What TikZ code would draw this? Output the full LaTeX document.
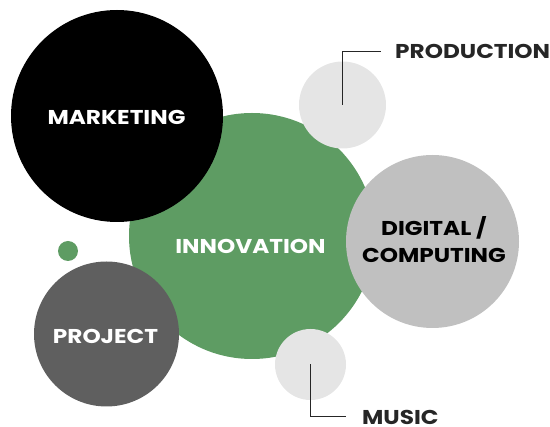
\documentclass[tikz,border=0pt]{standalone}
\usepackage{fontspec}
\setmainfont{Poppins}[FakeStretch=1.16]
\usetikzlibrary{positioning}
\definecolor{innogreen}{HTML}{5E9C63}
\definecolor{projgrey}{HTML}{5F5F5F}
\definecolor{diggrey}{HTML}{C0C0C0}
\definecolor{softgrey}{HTML}{E5E5E5}
\definecolor{inkgrey}{HTML}{262626}
\begin{document}
\begin{tikzpicture}[x=1pt,y=-1pt,
	bubble/.style={circle,inner sep=0pt,draw=none},
	bubbletext/.style={font=\fontsize{20}{27}\selectfont\bfseries,anchor=base,align=center,inner sep=0pt,text depth=0pt},
	leader/.style={draw=inkgrey,line width=1.2pt}]
	\useasboundingbox (0,0) rectangle (550,427);
	% circles
	\node[bubble,fill=innogreen,minimum size=246pt] (inno) at (252,236) {};
	\node[bubble,fill=black,minimum size=212pt] (mkt) at (117,116) {};
	\node[bubble,fill=softgrey,minimum size=87pt] (prod) at (342.5,105) {};
	\node[bubble,fill=diggrey,minimum size=173pt] (dig) at (432.5,241.5) {};
	\node[bubble,fill=softgrey,minimum size=71pt] (mus) at (310.5,364.5) {};
	\node[bubble,fill=projgrey,minimum size=145pt] (proj) at (106.5,334) {};
	\node[bubble,fill=innogreen,minimum size=20pt] (dot) at (68,251) {};
	% texts
	\node[bubbletext,text=white] (mkttext) at (116.5,124.5) {MARKETING};
	\node[bubbletext,text=white] (innotext) at (250.5,254) {INNOVATION};
	\node[bubbletext,text=white] (projtext) at (105.5,344) {PROJECT};
	\node[bubbletext,text=black] (digtext) at (434,263) {DIGITAL /\\COMPUTING};
	\node[bubbletext,text=inkgrey,anchor=base west] (prodtext) at (395,59) {PRODUCTION};
	\node[bubbletext,text=inkgrey,anchor=base west] (mustext) at (362,425) {MUSIC};
	% leaders
	\coordinate (prodend) at (381,51.3);
	\coordinate (musend) at (346,416.5);
	\draw[leader] (prod.center) |- (prodend);
	\draw[leader] (mus.center) |- (musend);
\end{tikzpicture}
\end{document}
